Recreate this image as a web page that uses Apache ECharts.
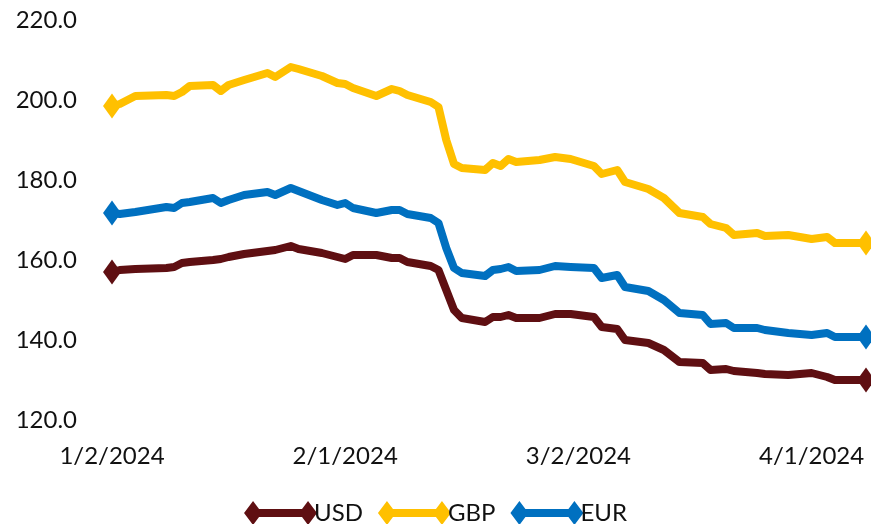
<!DOCTYPE html>
<html>
<head>
<meta charset="utf-8">
<title>USD GBP EUR</title>
<script src="https://cdn.jsdelivr.net/npm/echarts@6/dist/echarts.min.js"></script>
<style>
  html, body { margin: 0; padding: 0; background: #fff; }
  #chart { width: 871px; height: 524px; }
</style>
</head>
<body>
<div id="chart"></div>
<script>
// readings (business days)
var dates = [
  '2024-01-02', '2024-01-03', '2024-01-05', '2024-01-09', '2024-01-10', '2024-01-11', '2024-01-12',
  '2024-01-15', '2024-01-16', '2024-01-17', '2024-01-19', '2024-01-22', '2024-01-23', '2024-01-25',
  '2024-01-26', '2024-01-29', '2024-01-31', '2024-02-01', '2024-02-02', '2024-02-05', '2024-02-07',
  '2024-02-08', '2024-02-09', '2024-02-12', '2024-02-13', '2024-02-14', '2024-02-15', '2024-02-16',
  '2024-02-19', '2024-02-20', '2024-02-21', '2024-02-22', '2024-02-23', '2024-02-26', '2024-02-28',
  '2024-03-01', '2024-03-04', '2024-03-05', '2024-03-07', '2024-03-08', '2024-03-11', '2024-03-13',
  '2024-03-15', '2024-03-18', '2024-03-19', '2024-03-21', '2024-03-22', '2024-03-25', '2024-03-26',
  '2024-03-29', '2024-04-01', '2024-04-03', '2024-04-04', '2024-04-08'
];
var usd = [
  157, 157.5, 157.75, 158, 158.25, 159.25, 159.5,
  160, 160.25, 160.75, 161.5, 162.25, 162.5, 163.5,
  162.75, 161.75, 160.75, 160.25, 161.25, 161.25, 160.5,
  160.5, 159.5, 158.5, 157.5, 152.5, 147.5, 145.5,
  144.5, 145.75, 145.75, 146.25, 145.5, 145.5, 146.5,
  146.5, 145.75, 143.25, 142.75, 140, 139.25, 137.5,
  134.5, 134.25, 132.5, 132.75, 132.25, 131.75, 131.5,
  131.25, 131.75, 130.75, 130, 130
];
var gbp = [
  198.5, 199, 201, 201.25, 201, 202, 203.5,
  203.75, 202.25, 203.75, 205, 206.75, 205.75, 208.25,
  207.75, 206, 204.25, 204, 203, 201, 202.75,
  202.25, 201.25, 199.5, 198.25, 190, 184, 183,
  182.5, 184.25, 183.5, 185.25, 184.5, 185, 185.75,
  185.25, 183.5, 181.5, 182.5, 179.5, 177.75, 175.5,
  171.75, 170.75, 169, 168, 166.25, 166.75, 166,
  166.25, 165.25, 165.75, 164.25, 164.25
];
var eur = [
  171.75, 171.5, 172, 173.25, 173, 174.25, 174.5,
  175.5, 174.25, 175, 176.25, 177, 176.25, 178,
  177.25, 175, 173.75, 174.25, 173, 171.75, 172.5,
  172.5, 171.5, 170.5, 169.25, 163, 158, 156.75,
  156, 157.5, 157.75, 158.25, 157.25, 157.5, 158.5,
  158.25, 158, 155.5, 156.25, 153.25, 152.25, 150,
  146.75, 146.25, 144, 144.25, 143, 143, 142.5,
  141.75, 141.25, 141.75, 140.75, 140.75
];
var seriesNames = ['USD', 'GBP', 'EUR'];
var seriesColors = ['#5F0F12', '#FFC000', '#0070C0'];
var xTickLabels = ['1/2/2024', '2/1/2024', '3/2/2024', '4/1/2024'];
var yTickLabels = ['120.0', '140.0', '160.0', '180.0', '200.0', '220.0'];

var DAY = 86400000;
var start = Date.parse(dates[0]);
var lastDay = (Date.parse(dates[dates.length - 1]) - start) / DAY;

function toPairs(values) {
  var out = [];
  for (var i = 0; i < values.length; i++) {
    out.push([(Date.parse(dates[i]) - start) / DAY, values[i]]);
  }
  return out;
}

var fontFamily = 'Lato, "DejaVu Sans", sans-serif';
var legendIcon = 'path://M0,12L9,0L15,8L58,8L64,0L73,12L64,24L58,16L15,16L9,24Z';

function makeSeries(name, values, color) {
  var n = values.length;
  return {
    name: name,
    type: 'line',
    data: toPairs(values),
    color: color,
    symbol: 'diamond',
    showAllSymbol: true,
    symbolSize: function (val, params) {
      return (params.dataIndex === 0 || params.dataIndex === n - 1) ? [18, 25] : 0;
    },
    itemStyle: { color: color },
    lineStyle: { width: 8, color: color, cap: 'round', join: 'round' },
    clip: false,
    animation: false
  };
}

var chart = echarts.init(document.getElementById('chart'), null, { renderer: 'canvas' });

var option = {
  backgroundColor: '#ffffff',
  animation: false,
  grid: { left: 112, right: 5, top: 20, bottom: 104, containLabel: false },
  legend: {
    data: seriesNames.map(function (n) { return { name: n, icon: legendIcon }; }),
    left: 'center',
    top: 496,
    itemWidth: 73,
    itemHeight: 24,
    itemGap: 15,
    textStyle: { fontFamily: fontFamily, fontSize: 24, color: '#111', padding: [0, 0, 0, -8] }
  },
  xAxis: {
    type: 'value',
    min: 0,
    max: lastDay,
    interval: 30,
    axisLine: { show: false },
    axisTick: { show: false },
    splitLine: { show: false },
    axisLabel: {
      margin: 24,
      fontFamily: fontFamily,
      fontSize: 24,
      color: '#111',
      showMaxLabel: false,
      formatter: function (v) { return xTickLabels[Math.round(v / 30)] || ''; }
    }
  },
  yAxis: {
    type: 'value',
    min: 120,
    max: 220,
    interval: 20,
    axisLine: { show: false },
    axisTick: { show: false },
    splitLine: { show: false },
    axisLabel: {
      margin: 35,
      fontFamily: fontFamily,
      fontSize: 24,
      color: '#111',
      formatter: function (v) { return yTickLabels[Math.round((v - 120) / 20)]; }
    }
  },
  series: [
    makeSeries(seriesNames[0], usd, seriesColors[0]),
    makeSeries(seriesNames[1], gbp, seriesColors[1]),
    makeSeries(seriesNames[2], eur, seriesColors[2])
  ]
};

chart.setOption(option);
</script>
</body>
</html>
